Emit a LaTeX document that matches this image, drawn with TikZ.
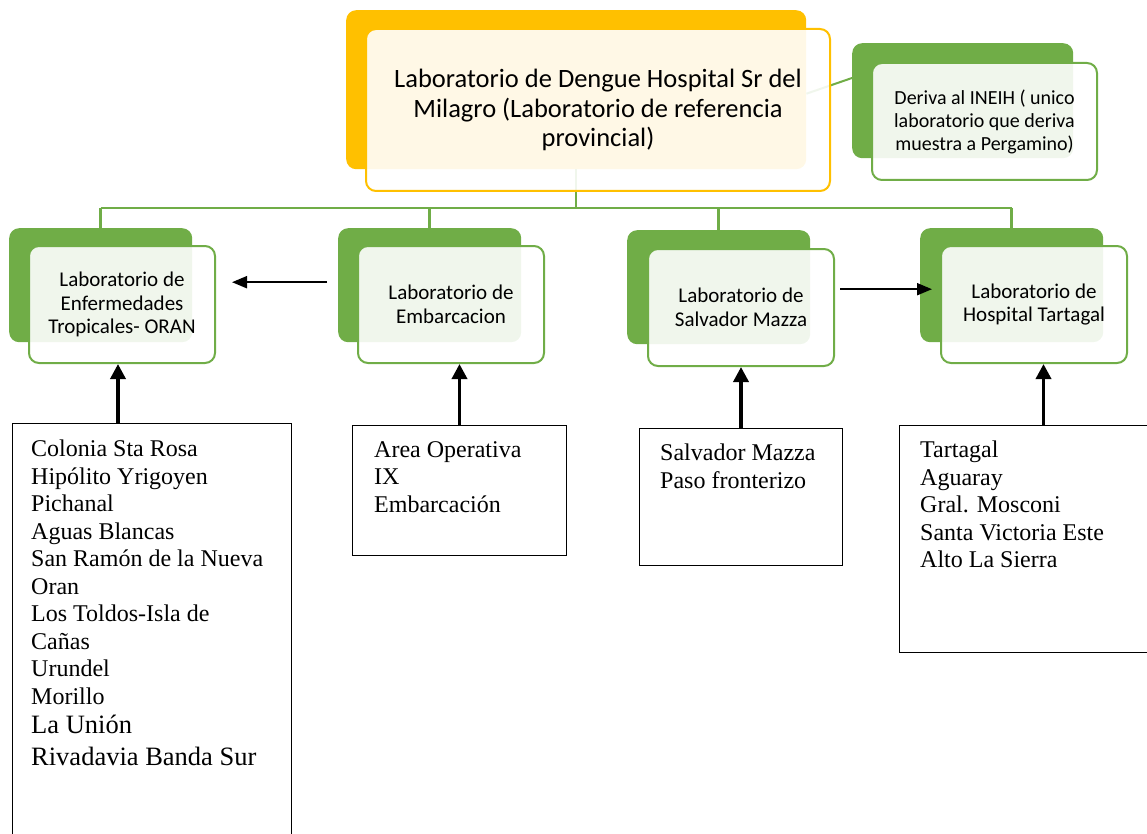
\documentclass[tikz,border=0pt]{standalone}
\usepackage{fontspec}
\setmainfont{Liberation Serif}
\newfontfamily\labfont{Carlito}
\usetikzlibrary{arrows.meta}
\definecolor{labgreen}{HTML}{70AD47}
\definecolor{laborange}{HTML}{FFC000}

\begin{document}
\begin{tikzpicture}[x=1pt,y=-1pt,
    back/.style={rounded corners=10pt, fill=#1, inner sep=0pt, anchor=north west,
        minimum width=183pt, minimum height=114pt},
    front/.style={draw=#1, line width=2pt, rounded corners=10pt, fill=white,
        fill opacity=0.9, text opacity=1, inner sep=0pt, anchor=north west,
        align=center, minimum width=186pt, minimum height=117pt,
        font=\labfont\fontsize{21}{23.5}\selectfont},
    link/.style={draw=labgreen, line width=2.5pt},
    listbox/.style={draw, line width=1pt, inner sep=0pt, anchor=north west},
    listtext/.style={anchor=north west, inner sep=0pt, align=left,
        font=\fontsize{24}{27.5}\selectfont},
    sidearrow/.style={-{Triangle[length=15pt,width=12pt]}, line width=2pt},
    uparrow/.style={-{Triangle[length=15pt,width=15pt]}, line width=3.5pt}]
    \useasboundingbox (0,0) rectangle (1147,834);

    % Back panels
    \node[back=laborange, minimum width=460pt, minimum height=159pt] (topback) at (346,10) {};
    \node[back=labgreen, minimum width=221pt, minimum height=115pt] (derback) at (852,43) {};
    \node[back=labgreen] (b1back) at (9,228) {};
    \node[back=labgreen] (b2back) at (338,228) {};
    \node[back=labgreen] (b3back) at (627,230) {};
    \node[back=labgreen] (b4back) at (920,228) {};

    % Draw connectors
    \coordinate (bus) at (0,208);
    \coordinate (derin) at (852,78);
    \draw[link, line width=2pt] ([yshift=-4pt]topback.east) -- (derin);
    \draw[link] (topback.south) -- (topback.south |- bus);
    \draw[link] (b1back.north |- bus) -- (b4back.north |- bus);
    \foreach \b in {b1back,b2back,b3back,b4back}
        \draw[link] (\b.north |- bus) -- (\b.north);

    % Front panels
    \node[front=laborange, minimum width=464pt, minimum height=162pt,
        font=\labfont\fontsize{26.5}{29.5}\selectfont] (top) at (365,28)
        {Laboratorio de Dengue Hospital Sr del\\Milagro (Laboratorio de referencia\\provincial)};
    \node[front=labgreen, minimum width=225pt, minimum height=117pt,
        font=\labfont\fontsize{20}{23}\selectfont] (der) at (871,62)
        {Deriva al INEIH ( unico\\laboratorio que deriva\\muestra a Pergamino)};
    \node[front=labgreen] (b1front) at (28,245) {Laboratorio de\\Enfermedades\\Tropicales- ORAN};
    \node[front=labgreen] (b2front) at (357,245) {Laboratorio de\\Embarcacion};
    \node[front=labgreen] (b3front) at (647,248) {Laboratorio de\\Salvador Mazza};
    \node[front=labgreen] (b4front) at (940,245) {Laboratorio de\\Hospital Tartagal};

    % Lists of places
    \node[listbox, minimum width=279pt, minimum height=440pt] (listA) at (12,423) {};
    \node[listtext] (textA) at ([xshift=19pt,yshift=-17pt]listA.north west)
        {Colonia Sta Rosa\\Hipólito Yrigoyen\\Pichanal\\Aguas Blancas\\San Ramón de la Nueva\\Oran\\Los Toldos-Isla de\\Cañas\\Urundel\\Morillo\\[2pt]
        {\fontsize{26.5}{31}\selectfont La Unión}\\[4pt]
        {\fontsize{26.5}{31}\selectfont Rivadavia Banda Sur}};
    \node[listbox, minimum width=214pt, minimum height=130pt] (listB) at (352,425) {};
    \node[listtext] (textB) at ([xshift=22pt,yshift=-16pt]listB.north west)
        {Area Operativa\\IX\\Embarcación};
    \node[listbox, minimum width=203pt, minimum height=137pt] (listC) at (639,428) {};
    \node[listtext] (textC) at ([xshift=21pt,yshift=-16pt]listC.north west)
        {Salvador Mazza\\Paso fronterizo};
    \node[listbox, minimum width=288pt, minimum height=227pt] (listD) at (899,425) {};
    \node[listtext] (textD) at ([xshift=21pt,yshift=-16pt]listD.north west)
        {Tartagal\\Aguaray\\Gral. Mosconi\\Santa Victoria Este\\Alto La Sierra};

    % Draw arrows
    \draw[sidearrow] ([xshift=-11pt,yshift=3pt]b2back.west) -- ([xshift=16pt,yshift=3pt]b2back.west -| b1front.east);
    \draw[sidearrow] ([xshift=5pt,yshift=-2pt]b3front.east |- b3back.west) -- ([xshift=12pt,yshift=-2pt]b3back.west -| b4back.west);
    \draw[uparrow] ([xshift=-4pt]b1front.south |- listA.north) -- ([xshift=-4pt]b1front.south);
    \draw[uparrow] (listB.north) -- (listB.north |- b2front.south);
    \draw[uparrow] (listC.north) -- (listC.north |- b3front.south);
    \draw[uparrow] (listD.north) -- (listD.north |- b4front.south);
\end{tikzpicture}
\end{document}
